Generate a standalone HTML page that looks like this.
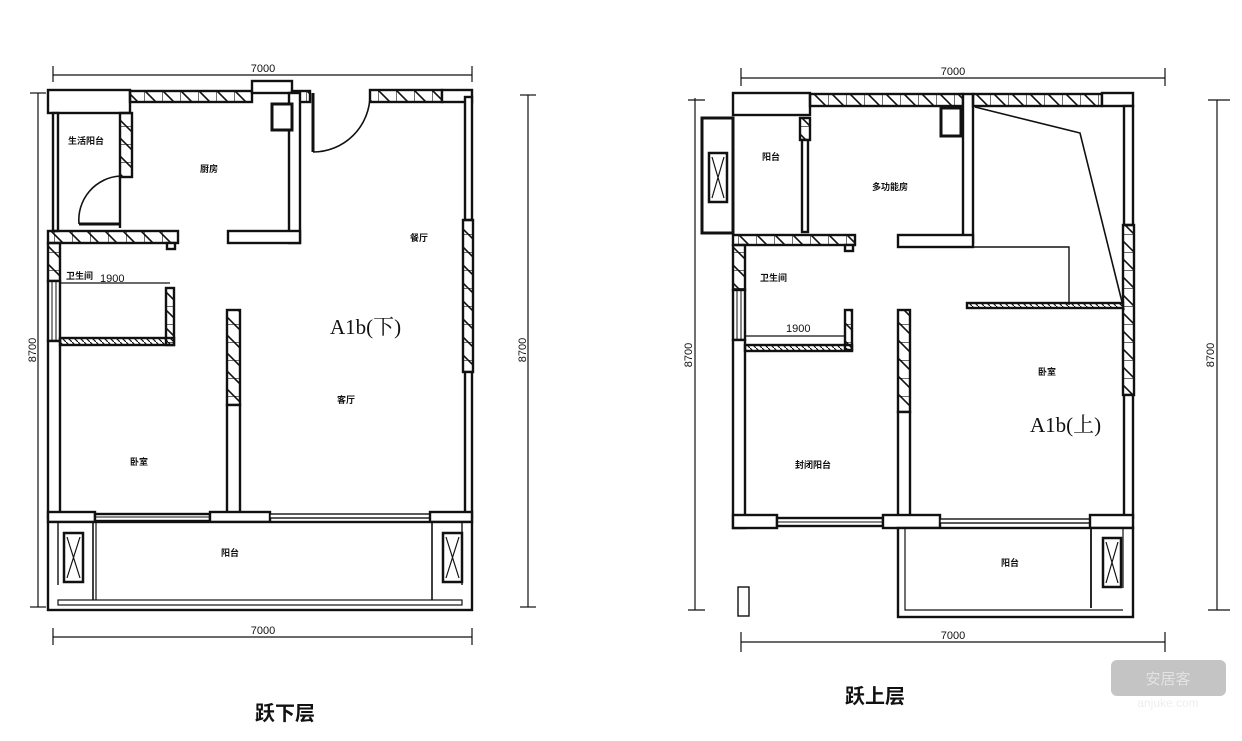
<!DOCTYPE html>
<html><head><meta charset="utf-8"><style>
html,body{margin:0;padding:0;background:#fff;}
svg{display:block;}
text{font-family:"Liberation Sans","Noto Sans CJK SC",sans-serif;fill:#111;}
.l{font-size:9px;font-weight:bold;}
.d{font-size:11px;font-family:"Liberation Sans Narrow","Liberation Sans",sans-serif;}
.big{font-size:21px;font-family:'Liberation Serif','Noto Serif CJK SC',serif;}
.t{font-size:20px;font-weight:bold;}
</style></head><body>
<svg width="1242" height="741" viewBox="0 0 1242 741" xmlns="http://www.w3.org/2000/svg">
<defs>
<pattern id="h" patternUnits="userSpaceOnUse" width="18" height="18">
<path d="M0 0 L18 18 M-9 9 L9 27 M9 -9 L27 9" stroke="#111" stroke-width="1.6"/>
<path d="M0 0 V18" stroke="#111" stroke-width="1.2"/>
</pattern>
<pattern id="hv" patternUnits="userSpaceOnUse" width="18" height="18">
<path d="M0 0 L18 18 M-9 9 L9 27 M9 -9 L27 9" stroke="#111" stroke-width="1.6"/>
<path d="M0 0 H18" stroke="#111" stroke-width="1.2"/>
</pattern>
<pattern id="hs" patternUnits="userSpaceOnUse" width="6" height="6">
<path d="M0 0 L6 6" stroke="#111" stroke-width="1.2"/>
</pattern>
</defs>
<g fill="#fff" stroke="#111" stroke-width="2.4">
<!-- ===== LEFT PLAN ===== -->
<g stroke-width="1.2">
<line x1="53" y1="75" x2="472" y2="75"/><line x1="53" y1="66" x2="53" y2="82"/><line x1="472" y1="66" x2="472" y2="82"/>
<line x1="53" y1="637" x2="472" y2="637"/><line x1="53" y1="628" x2="53" y2="645"/><line x1="472" y1="628" x2="472" y2="645"/>
<line x1="38" y1="93" x2="38" y2="607"/><line x1="30" y1="93" x2="46" y2="93"/><line x1="30" y1="607" x2="46" y2="607"/>
<line x1="528" y1="95" x2="528" y2="607"/><line x1="520" y1="95" x2="536" y2="95"/><line x1="520" y1="607" x2="536" y2="607"/>
</g>
<rect x="48" y="90" width="82" height="23"/>
<rect x="130" y="91" width="122" height="11" fill="url(#h)"/>
<rect x="252" y="81" width="40" height="12"/>
<rect x="292" y="91" width="18" height="11" fill="url(#h)"/>
<rect x="370" y="90" width="72" height="12" fill="url(#h)"/>
<rect x="442" y="90" width="30" height="12"/>
<rect x="465" y="97" width="7" height="123"/>
<rect x="463" y="220" width="10" height="152" fill="url(#hv)"/>
<rect x="465" y="372" width="7" height="146"/>
<rect x="289" y="93" width="11" height="150"/>
<rect x="228" y="231" width="72" height="12"/>
<rect x="272" y="104" width="20" height="26" stroke-width="3"/>
<path d="M313 93 V152" stroke-width="3" fill="none"/>
<path d="M313 152 A57 57 0 0 0 370 95" fill="none" stroke-width="1.6"/>
<rect x="53" y="113" width="5" height="118"/>
<rect x="120" y="113" width="12" height="64" fill="url(#hv)"/>
<line x1="120" y1="177" x2="120" y2="228"/>
<path d="M79 224 A44 44 0 0 1 120 176" fill="none" stroke-width="1.6"/>
<line x1="79" y1="224" x2="120" y2="224" stroke-width="3"/>
<rect x="48" y="231" width="130" height="12" fill="url(#h)"/>
<rect x="167" y="243" width="8" height="6"/>
<rect x="48" y="243" width="12" height="38" fill="url(#hv)"/>
<rect x="48" y="281" width="12" height="60"/>
<line x1="52" y1="281" x2="52" y2="341" stroke-width="1"/><line x1="56" y1="281" x2="56" y2="341" stroke-width="1"/>
<rect x="48" y="341" width="12" height="177"/>
<line x1="60" y1="283" x2="170" y2="283" stroke-width="1.2"/>
<rect x="166" y="288" width="8" height="57" fill="url(#hv)"/>
<rect x="60" y="338" width="114" height="7" fill="url(#hs)"/>
<rect x="227" y="310" width="13" height="95" fill="url(#hv)"/>
<rect x="227" y="405" width="13" height="113"/>
<rect x="48" y="512" width="47" height="10"/>
<rect x="95" y="514" width="115" height="7"/>
<line x1="95" y1="517" x2="210" y2="517" stroke-width="1"/>
<rect x="210" y="512" width="60" height="10"/>
<rect x="270" y="514" width="160" height="4" stroke-width="1.4"/>
<rect x="430" y="512" width="42" height="10"/>
<rect x="48" y="522" width="424" height="88"/>
<rect x="58" y="600" width="404" height="5" stroke-width="1.2"/>
<line x1="93" y1="522" x2="93" y2="600" stroke-width="1.6"/>
<line x1="96" y1="522" x2="96" y2="600" stroke-width="1.2"/>
<line x1="432" y1="522" x2="432" y2="600" stroke-width="1.6"/>
<line x1="58" y1="522" x2="58" y2="585" stroke-width="1.4"/>
<line x1="462" y1="522" x2="462" y2="585" stroke-width="1.4"/>
<rect x="64" y="533" width="19" height="49" stroke-width="2.5"/>
<rect x="443" y="533" width="19" height="49" stroke-width="2.5"/>
<path d="M67 537 L80 578 M80 537 L67 578 M446 537 L459 578 M459 537 L446 578" stroke-width="1.2"/>

<!-- ===== RIGHT PLAN ===== -->
<g stroke-width="1.2">
<line x1="741" y1="78" x2="1165" y2="78"/><line x1="741" y1="68" x2="741" y2="86"/><line x1="1165" y1="68" x2="1165" y2="86"/>
<line x1="741" y1="642" x2="1165" y2="642"/><line x1="741" y1="632" x2="741" y2="652"/><line x1="1165" y1="632" x2="1165" y2="652"/>
<line x1="695" y1="98" x2="695" y2="610"/><line x1="688" y1="100" x2="705" y2="100"/><line x1="688" y1="610" x2="705" y2="610"/>
<line x1="1217" y1="100" x2="1217" y2="610"/><line x1="1208" y1="100" x2="1230" y2="100"/><line x1="1208" y1="610" x2="1230" y2="610"/>
</g>
<rect x="733" y="93" width="77" height="22"/>
<rect x="810" y="94" width="153" height="12" fill="url(#h)"/>
<rect x="963" y="94" width="10" height="149"/>
<rect x="973" y="94" width="129" height="12" fill="url(#h)"/>
<rect x="1102" y="93" width="31" height="13"/>
<rect x="1124" y="106" width="9" height="119"/>
<rect x="1123" y="225" width="11" height="170" fill="url(#hv)"/>
<rect x="1124" y="395" width="9" height="123"/>
<rect x="941" y="108" width="20" height="28" stroke-width="3"/>
<rect x="702" y="118" width="31" height="115" stroke-width="3"/>
<rect x="709" y="153" width="18" height="49" stroke-width="2.5"/>
<path d="M712 157 L724 198 M724 157 L712 198" stroke-width="1.2"/>
<rect x="800" y="118" width="10" height="22" fill="url(#hv)"/>
<rect x="802" y="140" width="6" height="92"/>
<rect x="733" y="235" width="122" height="10" fill="url(#h)"/>
<rect x="845" y="245" width="8" height="6"/>
<rect x="898" y="235" width="75" height="12"/>
<path d="M973 247 H1069 V305" fill="none" stroke-width="1.4"/>
<path d="M975 107 L1080 133 L1124 310" fill="none" stroke-width="1.6"/>
<rect x="967" y="303" width="156" height="5" fill="url(#hs)"/>
<rect x="733" y="245" width="12" height="45" fill="url(#hv)"/>
<rect x="733" y="290" width="12" height="50"/>
<line x1="737" y1="290" x2="737" y2="340" stroke-width="1"/><line x1="741" y1="290" x2="741" y2="340" stroke-width="1"/>
<rect x="733" y="340" width="12" height="188"/>
<line x1="745" y1="336" x2="846" y2="336" stroke-width="1.2"/>
<rect x="845" y="310" width="7" height="40" fill="url(#hv)"/>
<rect x="745" y="345" width="107" height="6" fill="url(#hs)"/>
<rect x="898" y="310" width="12" height="102" fill="url(#hv)"/>
<rect x="898" y="412" width="12" height="116"/>
<rect x="733" y="515" width="44" height="13"/>
<rect x="777" y="518" width="106" height="8"/>
<line x1="777" y1="522" x2="883" y2="522" stroke-width="1"/>
<rect x="883" y="515" width="57" height="13"/>
<rect x="940" y="519" width="150" height="4" stroke-width="1.4"/>
<rect x="1090" y="515" width="43" height="13"/>
<rect x="898" y="528" width="235" height="89"/>
<path d="M905 528 V610 H1123" fill="none" stroke-width="1.2"/>
<line x1="1091" y1="528" x2="1091" y2="608" stroke-width="1.8"/>
<line x1="1123" y1="528" x2="1123" y2="588" stroke-width="1.2"/>
<rect x="1103" y="538" width="18" height="49" stroke-width="2.5"/>
<path d="M1106 542 L1118 583 M1118 542 L1106 583" stroke-width="1.2"/>
<rect x="738" y="587" width="11" height="29" stroke-width="1.4"/>
</g>
<text class="d" x="263" y="72" text-anchor="middle">7000</text>
<text class="d" x="263" y="634" text-anchor="middle">7000</text>
<text class="d" transform="translate(36,350) rotate(-90)" text-anchor="middle">8700</text>
<text class="d" transform="translate(526,350) rotate(-90)" text-anchor="middle">8700</text>
<text class="l" x="68" y="144">生活阳台</text>
<text class="l" x="200" y="172">厨房</text>
<text class="l" x="410" y="241">餐厅</text>
<text class="l" x="66" y="279">卫生间</text>
<text class="d" x="100" y="282">1900</text>
<text class="big" x="330" y="334">A1b(下)</text>
<text class="l" x="337" y="403">客厅</text>
<text class="l" x="130" y="465">卧室</text>
<text class="l" x="221" y="556">阳台</text>
<text class="t" x="285" y="720" text-anchor="middle">跃下层</text>
<text class="d" x="953" y="75" text-anchor="middle">7000</text>
<text class="d" x="953" y="639" text-anchor="middle">7000</text>
<text class="d" transform="translate(692,355) rotate(-90)" text-anchor="middle">8700</text>
<text class="d" transform="translate(1214,355) rotate(-90)" text-anchor="middle">8700</text>
<text class="l" x="762" y="160">阳台</text>
<text class="l" x="872" y="190">多功能房</text>
<text class="l" x="760" y="281">卫生间</text>
<text class="d" x="786" y="332">1900</text>
<text class="l" x="1038" y="375">卧室</text>
<text class="big" x="1030" y="432">A1b(上)</text>
<text class="l" x="795" y="468">封闭阳台</text>
<text class="l" x="1001" y="566">阳台</text>
<text class="t" x="875" y="703" text-anchor="middle">跃上层</text>
<rect x="1111" y="660" width="115" height="36" rx="6" fill="#c4c4c4"/>
<text x="1168" y="684" text-anchor="middle" style="font-size:15px;fill:#e2e2e2">安居客</text>
<text x="1168" y="707" text-anchor="middle" style="font-size:12px;fill:#eee">anjuke.com</text>
</svg>
</body></html>
